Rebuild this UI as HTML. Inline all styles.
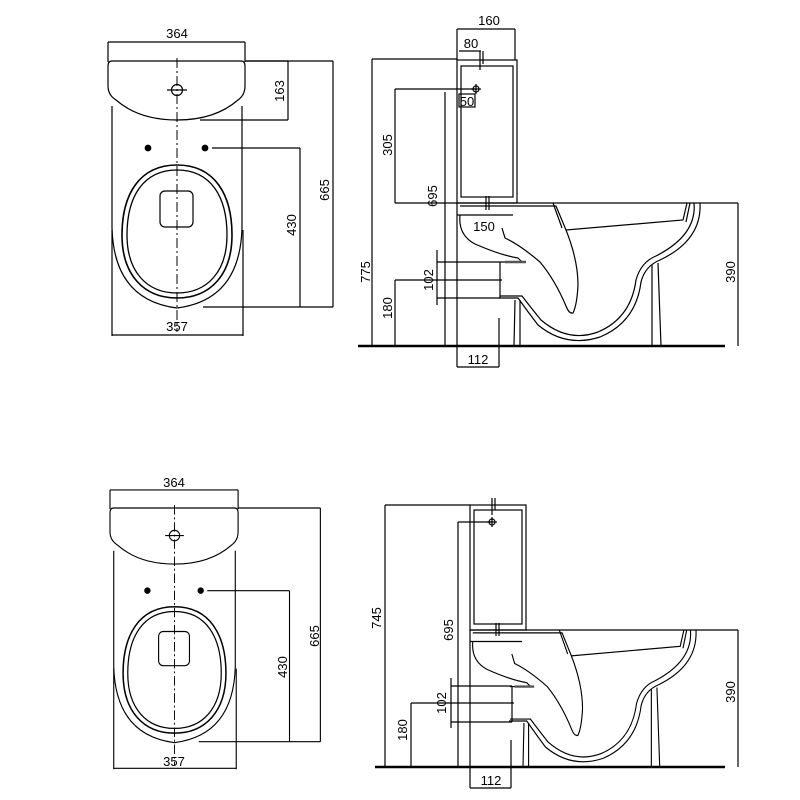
<!DOCTYPE html>
<html><head><meta charset="utf-8"><style>
html,body{margin:0;padding:0;background:#fff;}
svg{display:block;}
text{font-family:"Liberation Sans Narrow","Liberation Sans",sans-serif;font-size:13px;fill:#000;}
</style></head><body>
<svg width="800" height="800" viewBox="0 0 800 800" xmlns="http://www.w3.org/2000/svg" fill="none" stroke="#000" stroke-width="1.2">
<defs>
<g id="plan">
  <line x1="108" y1="42" x2="245" y2="42"/>
  <line x1="108" y1="42" x2="108" y2="62"/>
  <line x1="245" y1="42" x2="245" y2="62"/>
  <path d="M112,61 L241,61 Q245,61 245,66 L245,86 Q245,95 238,100 Q215,120 177,120 Q139,120 116,100 Q108,95 108,86 L108,66 Q108,61 112,61 Z"/>
  <circle cx="177" cy="90" r="5.5"/>
  <line x1="167" y1="90" x2="187" y2="90"/>
  <path d="M112,106 L112,228 Q114,300 177,308 Q240,300 242,228 L242,106"/>
  <line x1="177" y1="58" x2="177" y2="332" stroke-dasharray="10,3,2,3" stroke-width="1"/>
  <circle cx="148" cy="148" r="2.8" fill="#000"/>
  <circle cx="205" cy="148" r="2.8" fill="#000"/>
  <path d="M177,165 C215,165 232,195 232,235 C232,275 210,298 177,298 C144,298 122,275 122,235 C122,195 139,165 177,165 Z" stroke-width="1.6"/>
  <path d="M177,170 C211,170 227,197 227,235 C227,272 207,293 177,293 C147,293 127,272 127,235 C127,197 143,170 177,170 Z" stroke-width="1.3"/>
  <rect x="160" y="191" width="33" height="36" rx="5"/>
  <line x1="212" y1="148" x2="300" y2="148"/>
  <line x1="300" y1="148" x2="300" y2="307"/>
  <line x1="203" y1="307" x2="333" y2="307"/>
  <line x1="245" y1="61" x2="333" y2="61"/>
  <line x1="333" y1="61" x2="333" y2="307"/>
  <line x1="112" y1="230" x2="112" y2="336"/>
  <line x1="243" y1="230" x2="243" y2="336"/>
  <line x1="112" y1="335" x2="243" y2="335"/>
</g>
<g id="bowl">
  <path d="M457,215 L513,215 M460,206 L556,206 L566,230 L683,220 L687,203"/>
  <path d="M553,203 L562,228 M690,203 L686,222"/>
  <path d="M700,203 Q702,240 660,260 Q645,266 641,282 Q636,322 600,337 Q566,348 538,325 Q528,312 518,298 L499,298"/>
  <path d="M694,203 Q697,235 656,256 Q641,262 636,280 Q631,318 598,332 Q568,343 541,320 Q532,309 522,296 L500,296"/>
  <path d="M566,230 Q578,260 578,285 Q577,305 573,313 Q569,314 566,306 Q555,280 540,262 Q520,245 505,238 L502,228"/>
  <path d="M460,215 Q458,235 475,244 Q500,255 518,258 L522,262 L500,262"/>
  <path d="M505,262 L526,262" stroke-width="2.5" stroke="#555"/>
  <path d="M515,300 L514,346 M520,300 L520,346"/>
  <path d="M652,265 L652,346 M658,263 L661,346"/>
</g>
</defs>

<use href="#plan"/>
<line x1="245" y1="61" x2="288" y2="61"/>
<line x1="200" y1="120" x2="288" y2="120"/>
<line x1="288" y1="61" x2="288" y2="120"/>
<g stroke="none">
<text x="177" y="38" text-anchor="middle">364</text>
<text x="177" y="331" text-anchor="middle">357</text>
<text transform="translate(284,91) rotate(-90)" text-anchor="middle">163</text>
<text transform="translate(296,225) rotate(-90)" text-anchor="middle">430</text>
<text transform="translate(329,190) rotate(-90)" text-anchor="middle">665</text>
</g>

<g transform="translate(110,508) scale(0.935,0.95) translate(-108,-61)">
<use href="#plan"/>
</g>
<g stroke="none">
<text x="174" y="487" text-anchor="middle">364</text>
<text x="174" y="766" text-anchor="middle">357</text>
<text transform="translate(287,667) rotate(-90)" text-anchor="middle">430</text>
<text transform="translate(319,636) rotate(-90)" text-anchor="middle">665</text>
</g>

<line x1="358" y1="346" x2="725" y2="346" stroke-width="2.6"/>
<line x1="395" y1="203" x2="738" y2="203"/>
<line x1="738" y1="203" x2="738" y2="346"/>
<rect x="457" y="60" width="60" height="143"/>
<rect x="461" y="66" width="52" height="131"/>
<line x1="457" y1="29" x2="515" y2="29"/>
<line x1="457" y1="29" x2="457" y2="60"/>
<line x1="515" y1="29" x2="515" y2="60"/>
<line x1="459" y1="51" x2="481" y2="51"/>
<line x1="480" y1="51" x2="480" y2="70"/>
<line x1="483" y1="51" x2="483" y2="64"/>
<line x1="372" y1="59" x2="457" y2="59"/>
<line x1="372" y1="59" x2="372" y2="346"/>
<line x1="395" y1="89" x2="476" y2="89"/>
<line x1="395" y1="89" x2="395" y2="203"/>
<circle cx="476" cy="89" r="3"/>
<line x1="471" y1="89" x2="481" y2="89"/><line x1="476" y1="84" x2="476" y2="94"/>
<rect x="459" y="94" width="16" height="13"/>
<line x1="445" y1="92" x2="445" y2="346"/>
<line x1="457" y1="203" x2="457" y2="367"/>
<line x1="457" y1="367" x2="499" y2="367"/>
<line x1="499" y1="318" x2="499" y2="367"/>
<path d="M437,250 L437,305 M437,262 L500,262 M437,298 L500,298 M500,262 L500,298"/>
<path d="M395,280 L502,280 M395,280 L395,346"/>
<path d="M486,196 L486,210 M489,196 L489,210"/>
<use href="#bowl"/>
<g stroke="none">
<text x="489" y="25" text-anchor="middle">160</text>
<text x="471" y="48" text-anchor="middle">80</text>
<text x="467" y="106" text-anchor="middle">50</text>
<text x="484" y="231" text-anchor="middle">150</text>
<text x="478" y="364" text-anchor="middle">112</text>
<text transform="translate(392,145) rotate(-90)" text-anchor="middle">305</text>
<text transform="translate(437,196) rotate(-90)" text-anchor="middle">695</text>
<text transform="translate(370,272) rotate(-90)" text-anchor="middle">775</text>
<text transform="translate(433,280) rotate(-90)" text-anchor="middle">102</text>
<text transform="translate(392,308) rotate(-90)" text-anchor="middle">180</text>
<text transform="translate(735,272) rotate(-90)" text-anchor="middle">390</text>
</g>

<line x1="375" y1="767" x2="725" y2="767" stroke-width="2.6"/>
<line x1="470" y1="630" x2="738" y2="630"/>
<line x1="738" y1="630" x2="738" y2="767"/>
<rect x="470" y="505" width="56" height="125"/>
<rect x="474" y="510" width="48" height="114"/>
<line x1="385" y1="505" x2="470" y2="505"/>
<line x1="385" y1="505" x2="385" y2="767"/>
<line x1="492" y1="498" x2="492" y2="515"/>
<line x1="495" y1="498" x2="495" y2="510"/>
<line x1="458" y1="522" x2="492" y2="522"/>
<circle cx="492" cy="522" r="3"/>
<line x1="487" y1="522" x2="497" y2="522"/><line x1="492" y1="517" x2="492" y2="527"/>
<line x1="458" y1="522" x2="458" y2="767"/>
<line x1="470" y1="630" x2="470" y2="788"/>
<line x1="470" y1="788" x2="511" y2="788"/>
<line x1="511" y1="740" x2="511" y2="788"/>
<path d="M451,678 L451,728 M451,686 L512,686 M451,722 L512,722 M512,686 L512,722"/>
<path d="M411,703 L514,703 M411,703 L411,767"/>
<path d="M496,623 L496,636 M499,623 L499,636"/>
<g transform="translate(470,630) scale(0.93,0.958) translate(-457,-203)">
<use href="#bowl"/>
</g>
<g stroke="none">
<text x="491" y="785" text-anchor="middle">112</text>
<text transform="translate(381,618) rotate(-90)" text-anchor="middle">745</text>
<text transform="translate(453,630) rotate(-90)" text-anchor="middle">695</text>
<text transform="translate(446,703) rotate(-90)" text-anchor="middle">102</text>
<text transform="translate(407,730) rotate(-90)" text-anchor="middle">180</text>
<text transform="translate(735,692) rotate(-90)" text-anchor="middle">390</text>
</g>
</svg>
</body></html>
